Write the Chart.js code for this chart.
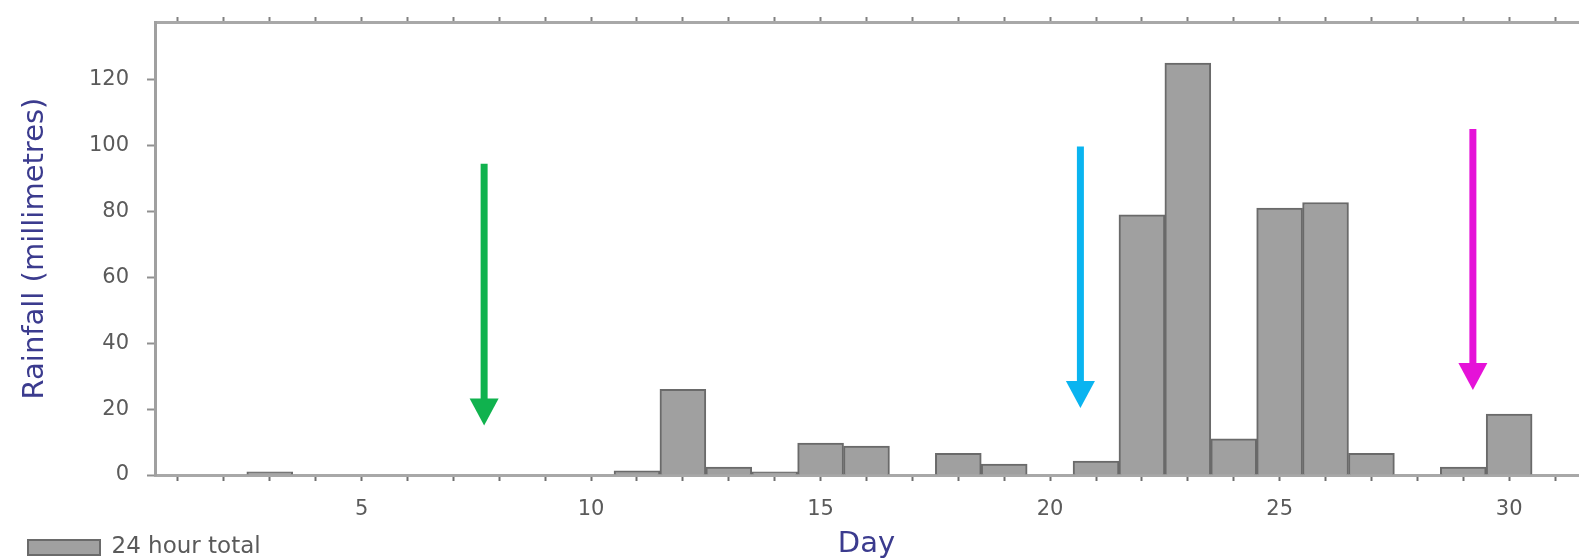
<!DOCTYPE html>
<html>
<head>
<meta charset="utf-8">
<script src="https://cdn.jsdelivr.net/npm/chart.js@4.4.1/dist/chart.umd.min.js"></script>
<style>
  html, body { margin: 0; padding: 0; background: #fff; }
  #wrap { width: 1583px; height: 559px; }
</style>
</head>
<body>
<div id="wrap"><canvas id="rain" width="1583" height="559"></canvas></div>
<script>
// daily rainfall (mm)
const days = [1, 2, 3, 4, 5, 6, 7, 8, 9, 10, 11, 12, 13, 14, 15, 16,
  17, 18, 19, 20, 21, 22, 23, 24, 25, 26, 27, 28, 29, 30, 31];
const rainfall = [0, 0, 1, 0, 0, 0, 0, 0, 0, 0, 1.3, 26, 2.4, 1, 9.7, 8.8,
  0, 6.6, 3.3, 0, 4.2, 79, 125, 11, 81, 82.7, 6.6, 0, 2.4, 18.5, 0];
const xTickLabels = [5, 10, 15, 20, 25, 30];
const yTicks = [0, 20, 40, 60, 80, 100, 120];

// the three marker arrows: day, top of the shaft, tip (mm)
const arrowDays = [7.67, 20.66, 29.21];
const arrowTops = [94.5, 99.7, 105];
const arrowTips = [15, 20.3, 25.8];
const arrowColors = ['#10b24e', '#0ab4f0', '#e512d8'];

const titleColor = '#3b3b8e';
const tickColor = '#5a5a5a';

const arrowPlugin = {
  id: 'arrows',
  afterDatasetsDraw(chart) {
    const { ctx, scales: { x, y } } = chart;
    ctx.save();
    arrowDays.forEach((d, i) => {
      const px = x.getPixelForValue(d);
      const top = y.getPixelForValue(arrowTops[i]);
      const tip = y.getPixelForValue(arrowTips[i]);
      const headH = 27, headW = 29;
      ctx.strokeStyle = arrowColors[i];
      ctx.fillStyle = arrowColors[i];
      ctx.lineWidth = 7;
      ctx.beginPath();
      ctx.moveTo(px, top);
      ctx.lineTo(px, tip - headH + 2);
      ctx.stroke();
      ctx.beginPath();
      ctx.moveTo(px - headW / 2, tip - headH);
      ctx.lineTo(px + headW / 2, tip - headH);
      ctx.lineTo(px, tip);
      ctx.closePath();
      ctx.fill();
    });
    ctx.restore();
  }
};

// nudge the legend to sit under the axis like in the original
const legendShift = {
  id: 'legendShift',
  afterLayout(chart) {
    chart.legend.left = 24;
    chart.legend.top += 10;
  }
};

const dayTicks = (scale) => { scale.ticks = days.map(v => ({ value: v })); };
const noPad = (s) => { s.paddingTop = 0; s.paddingBottom = 0; s.paddingLeft = 0; s.paddingRight = 0; };

new Chart(document.getElementById('rain'), {
  type: 'bar',
  data: {
    datasets: [{
      label: '24 hour total',
      data: days.map((d, i) => ({ x: d, y: rainfall[i] })),
      backgroundColor: '#a0a0a0',
      borderColor: '#6a6a6a',
      borderWidth: 2,
      barPercentage: 1,
      categoryPercentage: 1
    }]
  },
  options: {
    responsive: false,
    animation: false,
    layout: { padding: { top: 17, right: 5, left: 0, bottom: 0 } },
    plugins: {
      tooltip: { enabled: false },
      legend: {
        position: 'bottom',
        align: 'start',
        labels: {
          boxWidth: 72,
          boxHeight: 15,
          padding: 4,
          color: tickColor,
          font: { family: 'DejaVu Sans', size: 23 }
        }
      }
    },
    scales: {
      x: {
        type: 'linear',
        position: 'bottom',
        min: 0.5,
        max: 31.5,
        offset: false,
        afterBuildTicks: dayTicks,
        afterFit: (s) => { noPad(s); s.height = 47; },
        ticks: {
          autoSkip: false,
          maxRotation: 0,
          padding: 16,
          color: tickColor,
          font: { family: 'DejaVu Sans', size: 21 },
          callback: (v) => xTickLabels.includes(v) ? String(v) : ''
        },
        grid: { offset: false, drawOnChartArea: false, tickLength: 6, tickColor: '#707070', tickWidth: 2 },
        border: { color: '#a8a8a8', width: 3 },
        title: {
          display: true,
          text: 'Day',
          color: titleColor,
          font: { family: 'DejaVu Sans', size: 29 },
          padding: { top: 0, bottom: -40 }
        }
      },
      xTop: {
        type: 'linear',
        position: 'top',
        min: 0.5,
        max: 31.5,
        offset: false,
        afterBuildTicks: dayTicks,
        afterFit: (s) => { noPad(s); s.height = 5; },
        ticks: { display: false },
        grid: { offset: false, drawOnChartArea: false, tickLength: 5, tickColor: '#808080', tickWidth: 2 },
        border: { color: '#a8a8a8', width: 3 }
      },
      y: {
        min: 0,
        max: 137.5,
        afterBuildTicks: (s) => { s.ticks = yTicks.map(v => ({ value: v })); },
        afterFit: (s) => { noPad(s); s.width = 155; },
        ticks: {
          padding: 18,
          color: tickColor,
          font: { family: 'DejaVu Sans', size: 21 }
        },
        grid: { drawOnChartArea: false, tickLength: 8, tickColor: '#909090', tickWidth: 2 },
        border: { color: '#a0a0a0', width: 3 },
        title: {
          display: true,
          text: 'Rainfall (millimetres)',
          color: titleColor,
          font: { family: 'DejaVu Sans', size: 29 },
          padding: { top: 18, bottom: 0 }
        }
      }
    }
  },
  plugins: [arrowPlugin, legendShift]
});
</script>
</body>
</html>
